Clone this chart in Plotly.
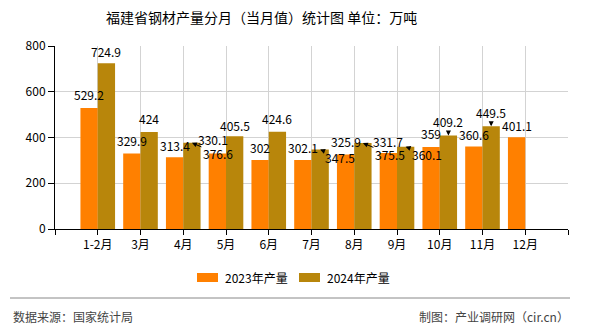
import plotly.graph_objects as go

# ---- data ----
categories = ["1-2月", "3月", "4月", "5月", "6月", "7月", "8月", "9月", "10月", "11月", "12月"]
prod_2023 = [529.2, 329.9, 313.4, 330.1, 302, 302.1, 325.9, 331.7, 359, 360.6, 401.1]
prod_2024 = [724.9, 424, 376.6, 405.5, 424.6, 347.5, 375.5, 360.1, 409.2, 449.5, None]
series_names = ["2023年产量", "2024年产量"]
y_ticks = [0, 200, 400, 600, 800]

# ---- layout geometry (pixels) ----
W, H = 590, 330
L, R, T, B = 55, 568, 46, 229
FONT = "Noto Sans CJK SC"
C23, C24 = "#ff8000", "#b8860b"


def px(x):
    return (x - L) / (R - L)


def py(y):
    return 1 - (y - T) / (B - T)


x_idx = list(range(len(categories)))
fig = go.Figure()
fig.add_bar(x=x_idx, y=prod_2023, name=series_names[0], marker_color=C23, marker_line_width=0)
fig.add_bar(x=x_idx, y=prod_2024, name=series_names[1], marker_color=C24, marker_line_width=0)

bar_half = 0.2025  # half bar width in category units

# label offsets: (xshift, yshift) for plain labels; arrows given as (ax, ay)
off23 = [(0, 13), (0, 13), (0, 12), (-4, 14), (0, 12), (0, 12), (0, 13), (0, 12), (0, 13), (0, 12), (0, 12)]
arrow24 = {2: (26, 11), 5: (20, 8), 6: (27, 11), 7: (21, 8), 8: (0, -14), 9: (0, -14)}
off24 = [(0, 12), (0, 14), None, (0, 11), (0, 13), None, None, None, None, None, None]

ann = []
lab_font = dict(family=FONT, size=12, color="#000")
for i, v in enumerate(prod_2023):
    xs, ys = off23[i]
    ann.append(dict(x=i - bar_half, y=v, xref="x", yref="y", text=f"{v:g}", showarrow=False,
                    xshift=xs, yshift=ys, font=lab_font))
for i, v in enumerate(prod_2024):
    if v is None:
        continue
    if i in arrow24:
        ax, ay = arrow24[i]
        ann.append(dict(x=i + bar_half, y=v, xref="x", yref="y", text=f"{v:g}", showarrow=True,
                        ax=ax, ay=ay, arrowhead=2, arrowsize=1, arrowwidth=1, arrowcolor="#000",
                        standoff=0, font=lab_font))
    else:
        xs, ys = off24[i]
        ann.append(dict(x=i + bar_half, y=v, xref="x", yref="y", text=f"{v:g}", showarrow=False,
                        xshift=xs, yshift=ys, font=lab_font))

# title
ann.append(dict(x=px(261), y=py(17), xref="paper", yref="paper", showarrow=False,
                text="福建省钢材产量分月（当月值）统计图 单位：万吨",
                font=dict(family=FONT, size=14, color="#000"), xanchor="center", yanchor="middle"))
# legend texts
ann.append(dict(x=px(223), y=py(277), xref="paper", yref="paper", showarrow=False, text=series_names[0],
                font=dict(family=FONT, size=12, color="#000"), xanchor="left", yanchor="middle"))
ann.append(dict(x=px(325), y=py(277), xref="paper", yref="paper", showarrow=False, text=series_names[1],
                font=dict(family=FONT, size=12, color="#000"), xanchor="left", yanchor="middle"))
# footer
ann.append(dict(x=px(11), y=py(316), xref="paper", yref="paper", showarrow=False, text="数据来源：国家统计局",
                font=dict(family=FONT, size=12, color="#444"), xanchor="left", yanchor="middle"))
ann.append(dict(x=px(571), y=py(316), xref="paper", yref="paper", showarrow=False,
                text="制图：产业调研网（cir.cn）",
                font=dict(family=FONT, size=12, color="#444"), xanchor="right", yanchor="middle"))

shapes = [
    dict(type="rect", xref="paper", yref="paper", x0=px(197), x1=px(218), y0=py(273), y1=py(282),
         fillcolor=C23, line_width=0),
    dict(type="rect", xref="paper", yref="paper", x0=px(299), x1=px(320), y0=py(273), y1=py(282),
         fillcolor=C24, line_width=0),
    dict(type="line", xref="paper", yref="paper", x0=px(10), x1=px(570), y0=py(298), y1=py(298),
         line=dict(color="#888", width=1)),
]

fig.update_layout(
    width=W, height=H,
    margin=dict(l=L, r=W - R, t=T, b=H - B),
    paper_bgcolor="white", plot_bgcolor="white",
    barmode="group", bargap=0.19, bargroupgap=0,
    showlegend=False,
    annotations=ann, shapes=shapes,
    font=dict(family=FONT, size=12, color="#000"),
)
fig.update_xaxes(range=[-1, len(categories)], tickmode="array",
                 tickvals=list(range(-1, len(categories) + 1)),
                 ticktext=[""] + categories + [""],
                 showgrid=True, gridcolor="#d3d3d3", gridwidth=1,
                 showline=True, linecolor="#000", linewidth=1,
                 ticks="outside", ticklen=5, tickcolor="#000",
                 tickfont=dict(family=FONT, size=12, color="#000"), zeroline=False)
fig.update_yaxes(range=[0, 800], tickmode="array", tickvals=y_ticks,
                 showgrid=True, gridcolor="#d3d3d3", gridwidth=1,
                 showline=True, linecolor="#000", linewidth=1,
                 ticks="outside", ticklen=6, tickcolor="#000",
                 tickfont=dict(family=FONT, size=12, color="#000"), zeroline=False)

fig.write_html("out.html")
